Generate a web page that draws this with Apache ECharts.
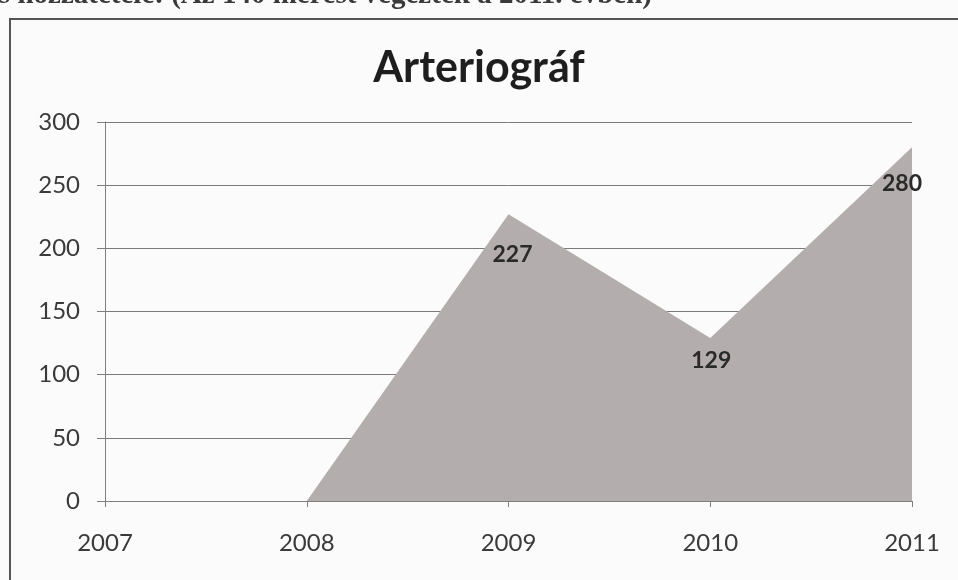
<!DOCTYPE html>
<html>
<head>
<meta charset="utf-8">
<script src="https://cdn.jsdelivr.net/npm/echarts@6/dist/echarts.min.js"></script>
<style>
  html, body { margin: 0; padding: 0; background: #fbfbfb; }
  #chart { width: 958px; height: 580px; }
</style>
</head>
<body>
<div id="chart"></div>
<script>
// mérések évenként
var years = ["2007", "2008", "2009", "2010", "2011"];
var counts = [0, 0, 227, 129, 280];
// címke eltolás pontonként (a címke a pont alatt ül)
var labelShift = [null, null, [4, 40], [1, 23], [-10, 36]];

var chart = echarts.init(document.getElementById("chart"));

var seriesData = counts.map(function (v, i) {
  var item = { value: v };
  if (labelShift[i]) {
    item.label = { show: true, offset: labelShift[i] };
  }
  return item;
});

var option = {
  backgroundColor: "#fbfbfb",
  animation: false,
  title: {
    text: "Arteriográf",
    left: "center",
    top: 42,
    textStyle: {
      fontFamily: "Lato",
      fontSize: 43,
      fontWeight: "bold",
      color: "#1e1e1e",
    },
  },
  graphic: [
    {
      type: "text",
      left: -14,
      top: -19,
      style: {
        text: "és hozzátétele: (Az 140 mérést végeztek a 2011. évben)",
        font: "bold 29px 'Liberation Serif'",
        fill: "#3a3a3a",
      },
    },
    {
      type: "rect",
      shape: { x: 10, y: 19, width: 960, height: 580 },
      style: { fill: "none", stroke: "#555", lineWidth: 2 },
    },
  ],
  grid: { left: 105, right: 46, top: 122, bottom: 79 },
  xAxis: {
    type: "category",
    data: years,
    boundaryGap: false,
    axisLine: { lineStyle: { color: "#7f7f7f", width: 1 } },
    axisTick: { show: true, length: 6, alignWithLabel: true, lineStyle: { color: "#7f7f7f" } },
    axisLabel: { color: "#3a3a3a", fontSize: 24, fontFamily: "Lato", margin: 30 },
    splitLine: { show: false },
  },
  yAxis: {
    type: "value",
    min: 0,
    max: 300,
    interval: 50,
    axisLine: { show: true, lineStyle: { color: "#7f7f7f", width: 1 } },
    axisTick: { show: true, length: 8, lineStyle: { color: "#7f7f7f" } },
    axisLabel: { color: "#3a3a3a", fontSize: 24, fontFamily: "Lato", margin: 25 },
    splitLine: { lineStyle: { color: "#7a7a7a", width: 1 } },
  },
  series: [
    {
      type: "line",
      data: seriesData,
      symbol: "circle",
      symbolSize: 1,
      showSymbol: true,
      itemStyle: { color: "rgba(0,0,0,0)" },
      lineStyle: { width: 0 },
      areaStyle: { color: "#b4adad", opacity: 1 },
      label: {
        show: false,
        position: "inside",
        color: "#2a2a2a",
        fontSize: 23,
        fontWeight: "bold",
        fontFamily: "Lato",
      },
    },
  ],
};

chart.setOption(option);
</script>
</body>
</html>
